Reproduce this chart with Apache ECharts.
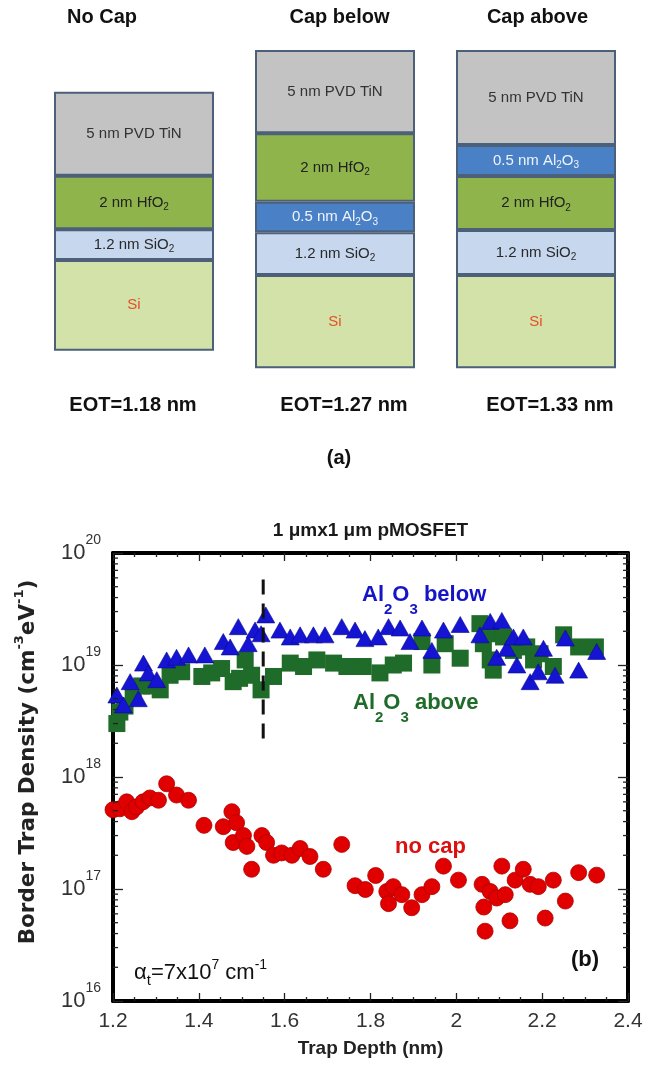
<!DOCTYPE html>
<html><head><meta charset="utf-8">
<script src="https://cdn.jsdelivr.net/npm/echarts@6/dist/echarts.min.js"></script>
<style>html,body{margin:0;padding:0;background:#fff}#c{width:648px;height:1073px}</style>
</head><body><div id="c"></div>
<script>
// ---------- (a) layer stacks ----------
const stackNames = ['No Cap', 'Cap below', 'Cap above'];
const eotLabels = ['EOT=1.18 nm', 'EOT=1.27 nm', 'EOT=1.33 nm'];
const baseOffset = [17.6, 0, 0];
const siHeight = [90.7, 93.3, 93.3];
const sio2Height = [30.7, 42.7, 45];
const al2o3BelowHeight = [0, 30.6, 0];
const hfo2Height = [53.6, 68.4, 54];
const al2o3AboveHeight = [0, 0, 31];
const tinHeight = [84, 83.3, 95];

// ---------- (b) border trap density ----------
const xTickLabels = ['1.2', '1.4', '1.6', '1.8', '2', '2.2', '2.4'];
const yTickExponents = [16, 17, 18, 19, 20];
const yMinorMultipliers = [2, 3, 4, 5, 6, 7, 8, 9];

const noCapDepth = [1.200,1.216,1.232,1.244,1.255,1.270,1.286,1.306,1.325,1.348,1.376,1.412,1.457,1.477,1.480,1.488,1.504,1.512,1.523,1.547,1.558,1.574,1.593,1.617,1.636,1.659,1.690,1.733,1.764,1.788,1.812,1.838,1.842,1.853,1.873,1.896,1.920,1.943,1.970,2.005,2.060,2.064,2.067,2.079,2.094,2.106,2.114,2.125,2.137,2.156,2.172,2.191,2.207,2.226,2.254,2.285,2.327];
const noCapDensity = [5.1e17,5.2e17,6.0e17,4.9e17,5.4e17,6.0e17,6.5e17,6.2e17,8.7e17,6.9e17,6.2e17,3.7e17,3.6e17,4.9e17,2.6e17,3.9e17,3.0e17,2.4e17,1.5e17,3.0e17,2.6e17,2.0e17,2.1e17,2.0e17,2.3e17,1.95e17,1.5e17,2.5e17,1.07e17,9.9e16,1.32e17,9.5e16,7.4e16,1.05e17,8.9e16,6.8e16,8.9e16,1.05e17,1.6e17,1.2e17,1.1e17,6.9e16,4.2e16,9.5e16,8.3e16,1.6e17,8.9e16,5.2e16,1.2e17,1.5e17,1.1e17,1.05e17,5.5e16,1.2e17,7.8e16,1.4e17,1.33e17];

const belowDepth = [1.209,1.224,1.240,1.259,1.271,1.282,1.302,1.325,1.348,1.376,1.414,1.457,1.473,1.492,1.515,1.531,1.545,1.556,1.589,1.613,1.636,1.667,1.694,1.733,1.764,1.787,1.818,1.842,1.869,1.892,1.920,1.943,1.970,2.009,2.055,2.079,2.094,2.106,2.118,2.133,2.141,2.156,2.172,2.191,2.203,2.230,2.254,2.285,2.327];
const belowDensity = [5.4e18,4.4e18,7.1e18,5.0e18,1.04e19,8.5e18,7.4e18,1.11e19,1.17e19,1.23e19,1.23e19,1.62e19,1.45e19,2.2e19,1.55e19,2.05e19,1.9e19,2.8e19,2.05e19,1.78e19,1.86e19,1.86e19,1.86e19,2.2e19,2.05e19,1.72e19,1.78e19,2.2e19,2.14e19,1.62e19,2.14e19,1.35e19,2.05e19,2.3e19,1.86e19,2.45e19,1.17e19,2.5e19,1.41e19,1.78e19,1.0e19,1.78e19,7.1e18,8.7e18,1.41e19,8.1e18,1.74e19,9.0e18,1.32e19];

const aboveDepth = [1.209,1.216,1.228,1.247,1.267,1.290,1.310,1.333,1.360,1.407,1.430,1.453,1.480,1.495,1.508,1.523,1.545,1.574,1.613,1.644,1.675,1.714,1.745,1.783,1.822,1.853,1.877,1.920,1.943,1.974,2.009,2.055,2.063,2.079,2.079,2.086,2.110,2.133,2.164,2.180,2.195,2.226,2.250,2.285,2.324];
const aboveDensity = [3.0e18,3.8e18,4.3e18,5.2e18,6.5e18,6.5e18,6.0e18,8.1e18,8.7e18,7.9e18,8.5e18,9.3e18,7.1e18,7.6e18,1.11e19,8.1e18,6.0e18,7.9e18,1.04e19,9.7e18,1.11e19,1.04e19,9.7e18,9.7e18,8.5e18,1.0e19,1.04e19,1.62e19,1.0e19,1.55e19,1.15e19,2.34e19,1.55e19,1.9e19,1.11e19,9.0e18,1.78e19,1.35e19,1.45e19,1.11e19,1.26e19,9.7e18,1.86e19,1.45e19,1.45e19];

const markerDepth = [1.55, 1.55];
const markerDensity = [5.8e19, 2.2e18];

// ---------- helpers ----------
const FONT = "'Liberation Sans', Arial, sans-serif";
const WIDE = "'DejaVu Sans', 'Liberation Sans', sans-serif";
const NARROW = "'Liberation Sans Narrow', 'Liberation Sans', Arial, sans-serif";
const xMin = 1.2, xMax = 2.4;
const yMin = Math.pow(10, yTickExponents[0]);
const yMax = Math.pow(10, yTickExponents[yTickExponents.length - 1]);
const zip = (a, b) => a.map((v, i) => [v, b[i]]);
const yMinorTickValues = [];
yTickExponents.slice(0, -1).forEach(e => yMinorMultipliers.forEach(m => yMinorTickValues.push(m * Math.pow(10, e))));

const layerRich = (color) => ({
  t: { fontSize: 15, fontFamily: NARROW, color: color, lineHeight: 20 },
  sub: { fontSize: 10, fontFamily: NARROW, color: color, lineHeight: 10, verticalAlign: 'bottom' }
});
const layerSeries = (name, data, fill, text, textColor) => ({
  name: name, type: 'bar', stack: 'layers', xAxisIndex: 0, yAxisIndex: 0,
  data: data, barWidth: 160, silent: true,
  itemStyle: { color: fill, borderColor: '#4d6079', borderWidth: 2 },
  label: { show: true, position: 'inside', formatter: p => (p.value ? text : ''), rich: layerRich(textColor) }
});

const axisLineStyle = { show: true, onZero: false, lineStyle: { color: '#000', width: 4 } };
const tickStyle = { color: '#222', width: 1.3 };

const txt = (x, y, text, opts) => ({
  type: 'text', x: x, y: y, silent: true, z: 100,
  style: Object.assign({ text: text, align: 'center', verticalAlign: 'middle', fill: '#111',
    fontFamily: FONT, fontWeight: 'bold', fontSize: 20 }, opts || {})
});
const formulaRich = (color) => ({
  m: { fontSize: 22, fontWeight: 'bold', fontFamily: FONT, fill: color, lineHeight: 44 },
  s: { fontSize: 15, fontWeight: 'bold', fontFamily: FONT, fill: color, lineHeight: 16, verticalAlign: 'bottom' }
});

const chart = echarts.init(document.getElementById('c'), null, { renderer: 'canvas' });
const option = {
  animation: false,
  backgroundColor: '#ffffff',
  grid: [
    { left: 33.5, width: 603, top: 50, height: 318.3 },
    { left: 113, width: 515, top: 553, height: 448 }
  ],
  xAxis: [
    { gridIndex: 0, type: 'category', data: stackNames, show: false },
    { gridIndex: 1, type: 'value', min: xMin, max: xMax, interval: 0.2, position: 'bottom',
      axisLine: axisLineStyle,
      axisTick: { show: true, inside: true, length: 8, lineStyle: tickStyle },
      minorTick: { show: true, splitNumber: 4, length: 4, lineStyle: tickStyle },
      splitLine: { show: false },
      axisLabel: { margin: 10, fontSize: 21, color: '#333', fontFamily: FONT, formatter: (v, i) => xTickLabels[i] },
      name: 'Trap Depth (nm)', nameLocation: 'middle', nameGap: 38,
      nameTextStyle: { fontSize: 19, fontWeight: 'bold', color: '#222', fontFamily: FONT } },
    { gridIndex: 1, type: 'value', min: xMin, max: xMax, interval: 0.2, position: 'top',
      axisLine: axisLineStyle,
      axisTick: { show: true, inside: true, length: 8, lineStyle: tickStyle },
      minorTick: { show: true, splitNumber: 4, length: 4, lineStyle: tickStyle },
      splitLine: { show: false }, axisLabel: { show: false } }
  ],
  yAxis: [
    { gridIndex: 0, type: 'value', min: 0, max: 318.3, show: false },
    { gridIndex: 1, type: 'log', logBase: 10, min: yMin, max: yMax, splitNumber: 4, position: 'left',
      axisLine: axisLineStyle,
      axisTick: { show: true, inside: true, length: 10, lineStyle: tickStyle },
      minorTick: { show: false }, splitLine: { show: false },
      axisLabel: { margin: 12, formatter: v => '{b|10}{s|' + Math.round(Math.log10(v)) + '}',
        rich: { b: { fontSize: 22, color: '#333', fontFamily: FONT, lineHeight: 40 },
                s: { fontSize: 14, color: '#333', fontFamily: FONT, lineHeight: 18, verticalAlign: 'top' } } },
      name: '{a|Border Trap Density (cm}{s|-3}{a|eV}{s|-1}{a|)}', nameLocation: 'middle', nameGap: 70,
      nameTextStyle: { padding: [0, 0, 0, 30], rich: {
        a: { fontSize: 21.5, fontWeight: 'bold', color: '#222', fontFamily: WIDE, lineHeight: 30 },
        s: { fontSize: 13, fontWeight: 'bold', color: '#222', fontFamily: WIDE, lineHeight: 14, verticalAlign: 'top' } } } },
    { gridIndex: 1, type: 'log', logBase: 10, min: yMin, max: yMax, splitNumber: 4, position: 'right',
      axisLine: axisLineStyle,
      axisTick: { show: true, inside: true, length: 10, lineStyle: tickStyle },
      minorTick: { show: false }, splitLine: { show: false }, axisLabel: { show: false } }
  ],
  series: [
    { name: 'base', type: 'bar', stack: 'layers', xAxisIndex: 0, yAxisIndex: 0, data: baseOffset, barWidth: 160,
      silent: true, itemStyle: { color: 'rgba(0,0,0,0)', borderWidth: 0 } },
    layerSeries('Si', siHeight, '#d3e2a8', '{t|Si}', '#e4502a'),
    layerSeries('SiO2', sio2Height, '#c6d7ee', '{t|1.2 nm SiO}{sub|2}', '#2a2a2a'),
    layerSeries('Al2O3 below', al2o3BelowHeight, '#4a80c6', '{t|0.5 nm Al}{sub|2}{t|O}{sub|3}', '#eef3fb'),
    layerSeries('HfO2', hfo2Height, '#8fb44b', '{t|2 nm HfO}{sub|2}', '#222'),
    layerSeries('Al2O3 above', al2o3AboveHeight, '#4a80c6', '{t|0.5 nm Al}{sub|2}{t|O}{sub|3}', '#eef3fb'),
    layerSeries('TiN', tinHeight, '#c3c3c3', '{t|5 nm PVD TiN}', '#333'),

    { name: 'yMinorTicks', type: 'custom', xAxisIndex: 1, yAxisIndex: 1, silent: true, z: 3,
      data: yMinorTickValues.map(v => [xMin, v]),
      renderItem: (params, api) => {
        const v = api.value(1);
        const l = api.coord([xMin, v]);
        const r = api.coord([xMax, v]);
        return { type: 'group', children: [
          { type: 'line', shape: { x1: l[0], y1: l[1], x2: l[0] + 5, y2: l[1] }, style: { stroke: '#222', lineWidth: 1.3 } },
          { type: 'line', shape: { x1: r[0], y1: r[1], x2: r[0] - 5, y2: r[1] }, style: { stroke: '#222', lineWidth: 1.3 } }
        ] };
      } },
    { name: 'no cap', type: 'scatter', xAxisIndex: 1, yAxisIndex: 1, data: zip(noCapDepth, noCapDensity),
      symbol: 'circle', symbolSize: 16, itemStyle: { color: '#e00000', borderColor: '#b00000', borderWidth: 0.8, opacity: 1 } },
    { name: 'Al2O3 above', type: 'scatter', xAxisIndex: 1, yAxisIndex: 1, data: zip(aboveDepth, aboveDensity),
      symbol: 'rect', symbolSize: 17, itemStyle: { color: '#1f6b2a', opacity: 1 } },
    { name: 'Al2O3 below', type: 'scatter', xAxisIndex: 1, yAxisIndex: 1, data: zip(belowDepth, belowDensity),
      symbol: 'triangle', symbolSize: [18, 16], itemStyle: { color: '#1414d2', borderColor: '#0a0a90', borderWidth: 0.6, opacity: 1 } },
    { name: 'marker', type: 'line', xAxisIndex: 1, yAxisIndex: 1, data: zip(markerDepth, markerDensity),
      symbol: 'none', silent: true, z: 5, lineStyle: { color: '#111', width: 3, type: [15, 9] } }
  ],
  graphic: [
    txt(102, 17, stackNames[0]),
    txt(339.5, 17, stackNames[1]),
    txt(537.5, 17, stackNames[2]),
    txt(133, 405, eotLabels[0]),
    txt(344, 405, eotLabels[1]),
    txt(550, 405, eotLabels[2]),
    txt(339, 458, '(a)'),
    txt(370.5, 531, '1 \u03bcmx1 \u03bcm pMOSFET', { fontSize: 19, fill: '#1a1a1a' }),
    txt(362, 595, '{m|Al}{s|2}{m|O}{s|3}{m| below}', { align: 'left', rich: formulaRich('#1515c8') }),
    txt(353, 703, '{m|Al}{s|2}{m|O}{s|3}{m| above}', { align: 'left', rich: formulaRich('#1f6b2a') }),
    txt(395, 847, 'no cap', { align: 'left', fontSize: 22, fill: '#dd1010' }),
    txt(585, 960, '(b)', { fontSize: 22, fill: '#111' }),
    txt(134, 973, '{m|\u03b1}{sub|t}{m|=7x10}{sup|7}{m| cm}{sup|-1}', { align: 'left', rich: {
      m: { fontSize: 22, fontFamily: FONT, fill: '#111', lineHeight: 30 },
      sub: { fontSize: 15, fontFamily: FONT, fill: '#111', lineHeight: 16, verticalAlign: 'bottom' },
      sup: { fontSize: 14, fontFamily: FONT, fill: '#111', lineHeight: 16, verticalAlign: 'top' } } })
  ]
};
chart.setOption(option);
</script>
</body></html>
